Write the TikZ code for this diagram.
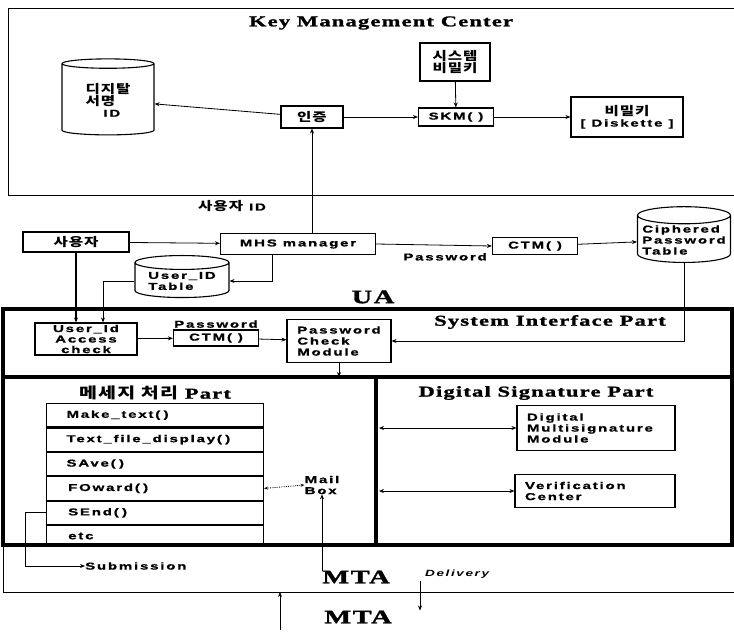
\documentclass[tikz,border=0pt]{standalone}
\usepackage{fontspec}
\setmainfont{Liberation Sans}
\newfontfamily\labfont[FakeStretch=1.5,LetterSpace=18,BoldFeatures={FakeBold=1}]{Liberation Sans}
\newfontfamily\headfont[FakeStretch=1.5,LetterSpace=8,BoldFeatures={FakeBold=1.5}]{Liberation Serif}
\newfontfamily\krfont[Scale=1.2,FakeStretch=1.3,LetterSpace=8]{Noto Sans CJK KR}
\usetikzlibrary{shapes.geometric, arrows.meta, positioning}
\newcommand{\labtxt}{\fontsize{10}{11}\labfont\bfseries}
\newcommand{\headtxt}{\fontsize{15}{17}\headfont\bfseries}

\begin{document}
\begin{tikzpicture}[
  x=1pt, y=-1pt,
  box/.style={rectangle, draw=black, line width=1.1pt, inner sep=1pt, align=center, font=\labtxt},
  dbase/.style={cylinder, shape border rotate=90, aspect=0.2, draw=black, line width=1.1pt,
                inner sep=1pt, align=left, font=\labtxt},
  lab/.style={inner sep=0pt, font=\labtxt},
  head/.style={inner sep=0pt, font=\headtxt},
  fnrow/.style={rectangle, draw=black, line width=1.1pt, minimum width=217pt, minimum height=23.3pt,
                text width=177pt, inner xsep=20pt, align=left, font=\labtxt},
  arrow/.style={-{Stealth[length=5pt,width=4pt]}, line width=0.8pt},
  frame/.style={line width=3.5pt}
]
\useasboundingbox (0,0) rectangle (734,632);

\draw[line width=1pt] (8,8) rectangle (750,195);
\node[head] (kmc) at (381,23) {Key Management Center};
\node[box, font=\labtxt\krfont, minimum width=70pt, minimum height=38pt] (syskey) at (455,62) {시스템\\비밀키};
\node[dbase, minimum width=92pt, minimum height=76pt] (sigdb) at (108,100) {{\krfont 디지탈}\\{\krfont 서명}\\\ \ \ ID};
\node[box, font=\labtxt\krfont, minimum width=62pt, minimum height=22pt] (auth) at (312,117) {인증};
\node[box, minimum width=75pt, minimum height=18pt] (skm) at (456,117) {SKM( )};
\node[box, minimum width=112pt, minimum height=40pt] (diskkey) at (627,117) {{\krfont 비밀키}\\{[} Diskette {]}};

\draw[arrow] (auth) -- (sigdb);
\draw[arrow] (auth) -- (skm);
\draw[arrow] (skm) -- (diskkey);
\draw[arrow] (syskey) -- (skm);

\node[lab] (uidlbl) at (232,206) {{\krfont 사용자} ID};
\node[box, font=\labtxt\krfont, minimum width=106pt, minimum height=20pt] (user) at (76,242) {사용자};
\node[box, minimum width=155pt, minimum height=21pt] (mhs) at (298,244) {MHS manager};
\node[box, minimum width=85pt, minimum height=17pt] (ctma) at (535,246) {CTM( )};
\node[lab, anchor=north east] (pwa) at (487,253) {Password};
\node[dbase, minimum width=93pt, minimum height=54pt] (cipher) at (684,240) {Ciphered\\Password\\Table};
\node[dbase, minimum width=94pt, minimum height=42pt] (uidtab) at (182,281) {User\_ID\\Table};
\coordinate (mhsdrop) at (272,0);

\draw[arrow] (mhs.north -| auth) -- (auth.south);
\draw[arrow] (user) -- (mhs);
\draw[arrow] (mhs.east) -- (ctma.west);
\draw[arrow] (ctma) -- (cipher);
\draw[arrow] (mhs.south -| mhsdrop) |- (uidtab.east);

\node[head, font=\fontsize{19}{21}\headfont\bfseries] (ua) at (373,297) {UA};
\draw[frame] (3,309) rectangle (732,545);
\draw[frame] (3,377) -- (732,377);
\draw[frame] (376,377) -- (376,545);
\coordinate (divtop) at (0,377);
\coordinate (divside) at (379,0);
\coordinate (tabdrop) at (103,0);

\node[box, font=\fontsize{10}{10.5}\labfont\bfseries, minimum width=102pt, minimum height=32pt] (uidchk) at (86,339) {User\_Id\\Access\\check};
\node[box, minimum width=85pt, minimum height=16pt] (ctmb) at (216,338) {CTM( )};
\node[lab, anchor=south] (pwb) at (216,328) {Password};
\node[box, align=left, minimum width=104pt, minimum height=43pt] (pwchk) at (339,341) {Password\\Check\\Module};
\node[head] (sip) at (550,322) {System Interface Part};

\draw[arrow, line width=1.8pt] (user.south) -- (user.south |- uidchk.north);
\draw[arrow] (uidtab.west) -| (tabdrop |- uidchk.north);
\draw[arrow] (uidchk) -- (ctmb);
\draw[arrow] (ctmb) -- (pwchk);
\draw[arrow] (cipher.south) |- (pwchk.east);
\draw[arrow] (pwchk.south) -- (pwchk.south |- divtop);

\node[head] (msgp) at (155,393) {{\fontsize{12.5}{14}\krfont 메세지 처리} Part};
\node[fnrow, anchor=north west] (mk) at (46,403) {Make\_text( )};
\node[fnrow, below=0pt of mk] (tfd) {Text\_file\_display( )};
\node[fnrow, below=0pt of tfd] (sv) {SAve( )};
\node[fnrow, below=0pt of sv] (fw) {\,FOward( )};
\node[fnrow, below=0pt of fw] (sd) {\,SEnd( )};
\node[fnrow, below=0pt of sd, minimum height=21pt] (etc) {\,etc};
\node[lab, align=left] (mailbox) at (322,485) {Mail\\Box};
\draw[densely dotted, line width=0.8pt, {Stealth[length=4pt,width=3pt]}-{Stealth[length=4pt,width=3pt]}] (fw.east) -- (mailbox.west);

\node[head] (dsp) at (536,393) {Digital Signature Part};
\node[box, align=left, text width=138pt, inner xsep=10pt, minimum height=45pt] (dmm) at (596,428) {Digital\\Multisignature\\Module};
\node[box, align=left, text width=140pt, inner xsep=10pt, minimum height=33pt] (verif) at (595,491) {Verification\\Center};
\draw[arrow, arrows={Stealth[length=5pt,width=4pt]-Stealth[length=5pt,width=4pt]}] (divside |- dmm) -- (dmm.west);
\draw[arrow, arrows={Stealth[length=5pt,width=4pt]-Stealth[length=5pt,width=4pt]}] (divside |- verif) -- (verif.west);

\draw[line width=1pt] (3,545) -- (3,592) -- (750,592);
\node[lab, anchor=west] (subm) at (85,566) {Submission};
\draw[arrow] (sd.west) -- ++(-21,0) |- (subm.west);
\node[head, font=\fontsize{19}{21}\headfont\bfseries] (mtaup) at (356,577) {MTA};
\draw[arrow] (mtaup.north -| mailbox) -- (mailbox.south);
\node[lab, font=\fontsize{9}{10}\labfont\bfseries\itshape, anchor=west] (deliv) at (425,574) {Delivery};
\node[head, font=\fontsize{19}{21}\headfont\bfseries] (mtalow) at (358,617) {MTA};
\coordinate (dlvtop) at (420,581);
\coordinate (upfoot) at (280,630);
\draw[arrow] (dlvtop) -- (dlvtop |- mtalow.north);
\draw[arrow] (upfoot) -- ++(0,-38);
\end{tikzpicture}
\end{document}
